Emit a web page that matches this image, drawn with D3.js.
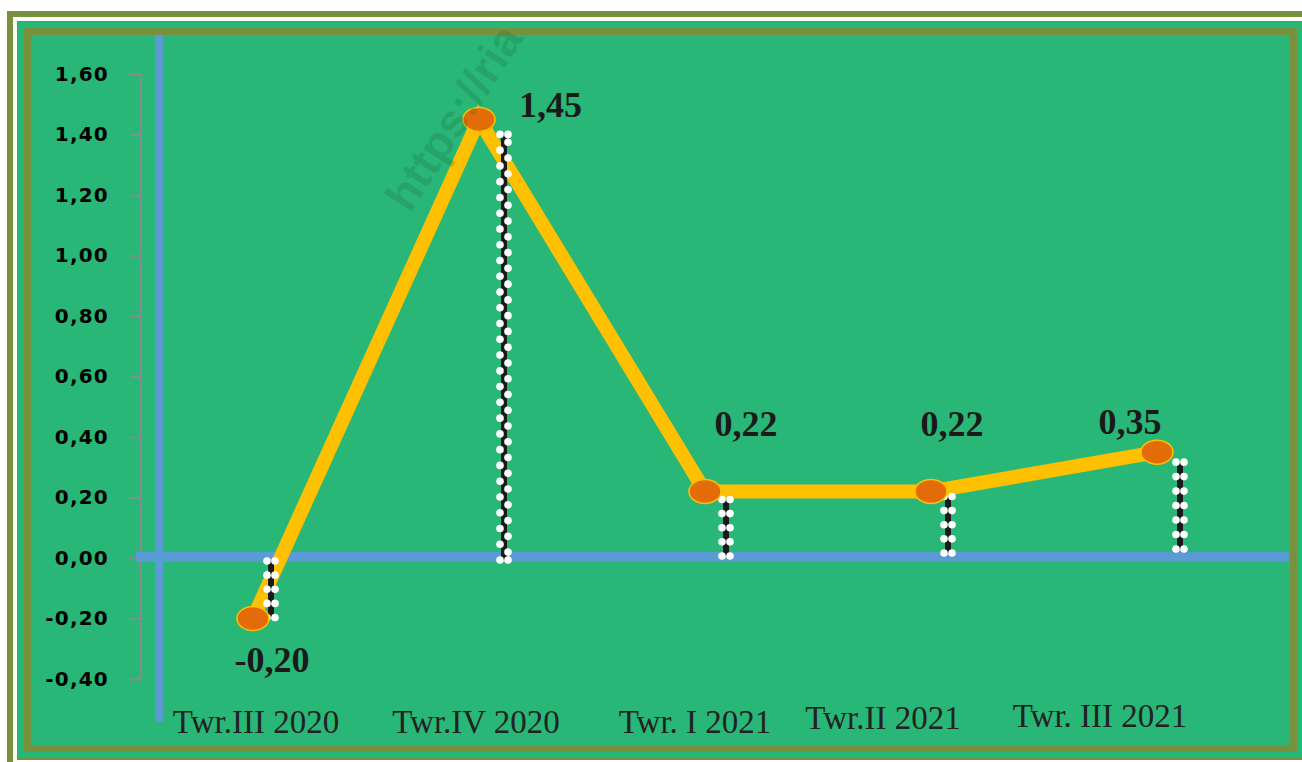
<!DOCTYPE html>
<html><head><meta charset="utf-8">
<script src="https://cdn.jsdelivr.net/npm/d3@7"></script>
<style>html,body{margin:0;padding:0;background:#fff;overflow:hidden}</style>
</head><body>
<svg id="c" width="1302" height="762"></svg>
<script>
const categories = ["Twr.III 2020","Twr.IV 2020","Twr. I 2021","Twr.II 2021","Twr. III 2021"];
const values = [-0.20, 1.45, 0.22, 0.22, 0.35];
const valueLabels = ["-0,20","1,45","0,22","0,22","0,35"];
const yTicks = [-0.40,-0.20,0.00,0.20,0.40,0.60,0.80,1.00,1.20,1.40,1.60];
const fmt = v => v.toFixed(2).replace(".", ",");

const svg = d3.select("#c");
const OLIVE = "#76923C", GREEN = "#29B778", BLUE = "#5B9BD5";

// frame
svg.append("rect").attr("x",7).attr("y",11).attr("width",1400).attr("height",800).attr("fill",OLIVE);
svg.append("rect").attr("x",13).attr("y",17).attr("width",1400).attr("height",800).attr("fill","#fff");
svg.append("rect").attr("x",17).attr("y",21).attr("width",1285).attr("height",739).attr("fill",OLIVE);
svg.append("rect").attr("x",18).attr("y",22).attr("width",1284).attr("height",736).attr("fill",GREEN);
svg.append("rect").attr("x",24).attr("y",28).attr("width",1273).attr("height",724).attr("fill",OLIVE);
svg.append("rect").attr("x",31).attr("y",35).attr("width",1259).attr("height",710).attr("fill",GREEN);

const y = d3.scaleLinear().domain([-0.40,1.60]).range([679,74]);
const x = d3.scalePoint().domain(categories).range([253,1157]);

// gray value axis
const ax = svg.append("g").attr("transform","translate(140,0)")
  .call(d3.axisLeft(y).tickValues(yTicks).tickFormat(fmt).tickSize(10).tickPadding(21));
ax.select(".domain").attr("stroke","#8c8c8c").attr("stroke-width",1.6);
ax.selectAll(".tick line").attr("stroke","#8c8c8c").attr("stroke-width",1.6);
ax.selectAll(".tick text").attr("fill","#000").attr("font-family","'DejaVu Sans', Verdana, sans-serif")
  .attr("font-weight","bold").attr("font-size",20).attr("letter-spacing",1.2);

// blue axes
svg.append("rect").attr("x",155).attr("y",35).attr("width",8).attr("height",687).attr("fill",BLUE);
svg.append("rect").attr("x",136).attr("y",y(0)-6).attr("width",1153).attr("height",10).attr("fill",BLUE);

// category labels
const catDx = [3,-3,-10,-48,-57], catBase = [733,733,733,729,727];
svg.append("g").selectAll("text").data(categories).join("text")
  .attr("x",(d,i)=>x(d)+catDx[i]).attr("y",(d,i)=>catBase[i])
  .attr("text-anchor","middle").attr("font-family","'Liberation Serif', 'Times New Roman', serif")
  .attr("font-size",33).attr("fill","#222").text(d=>d);

// line
const pts = categories.map((c,i)=>({c, v:values[i], i}));
svg.append("path").datum(pts)
  .attr("d", d3.line().x(d=>x(d.c)).y(d=>y(d.v)))
  .attr("fill","none").attr("stroke","#FFC000").attr("stroke-width",14).attr("stroke-linejoin","miter").attr("stroke-miterlimit",10);

// drop lines
const dropDx = [18,25,21,17,23], dropTop = [3,15,8,5,10], dropBot = [2,2,-2,-5,-9];
pts.forEach((d,i)=>{
  const xx = x(d.c)+dropDx[i];
  let y1, y2;
  if (d.v < 0) { y1 = y(0)+dropBot[i]+1; y2 = y(d.v)-1; }
  else { y1 = y(d.v)+dropTop[i]; y2 = y(0)+dropBot[i]; }
  const top = Math.min(y1,y2), bot = Math.max(y1,y2), len = bot-top;
  const g = svg.append("g");
  g.append("line").attr("x1",xx).attr("x2",xx).attr("y1",top).attr("y2",bot).attr("stroke","#1a1a1a").attr("stroke-width",6);
  const long = len > 150;
  const n = Math.max(1, Math.round(len/(long?16:14)));
  const step = len/n;
  for (let k=0;k<=n;k++){
    const yy = top + k*step;
    g.append("circle").attr("cx",xx-4).attr("cy",yy).attr("r",3.8).attr("fill","#fff");
    const yr = (long && k>0 && k<n) ? yy - step/2 : yy;
    g.append("circle").attr("cx",xx+4).attr("cy",yr).attr("r",3.8).attr("fill","#fff");
    if (long && k===n) g.append("circle").attr("cx",xx+4).attr("cy",yy-step/2).attr("r",3.8).attr("fill","#fff");
  }
});

// markers
svg.append("g").selectAll("ellipse").data(pts).join("ellipse")
  .attr("cx",d=>x(d.c)).attr("cy",d=>y(d.v)).attr("rx",16).attr("ry",12)
  .attr("fill","#E36C09").attr("stroke","#FFC000").attr("stroke-width",1.5);

// value labels
const lblDx = [19,40,41,21,-27], lblDy = [53,-2,-55,-55,-18], lblAnchor = ["middle","start","middle","middle","middle"];
svg.append("g").selectAll("text").data(pts).join("text")
  .attr("x",d=>x(d.c)+lblDx[d.i]).attr("y",d=>y(d.v)+lblDy[d.i])
  .attr("text-anchor",d=>lblAnchor[d.i])
  .attr("font-family","'Liberation Serif', 'Times New Roman', serif").attr("font-weight","bold")
  .attr("font-size",36).attr("fill","#1a1a1a").text(d=>valueLabels[d.i]);

// watermark
svg.append("text").attr("transform","translate(410,214) rotate(-57)")
  .attr("font-family","'Liberation Sans', Arial, sans-serif").attr("font-weight","bold").attr("font-size",46)
  .attr("fill","#1f5f30").attr("fill-opacity",0.22).text("https://ria");
</script>
</body></html>
